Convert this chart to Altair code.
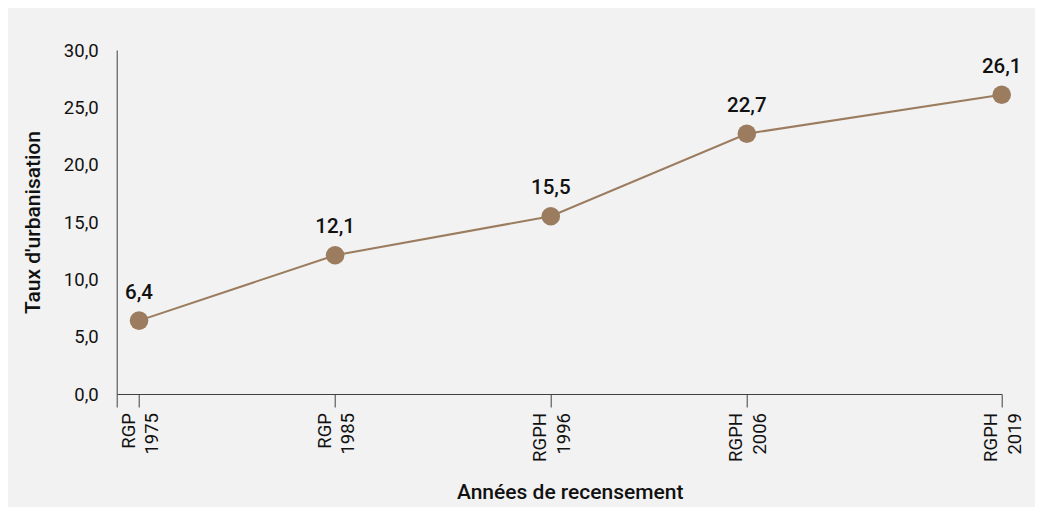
import altair as alt
import pandas as pd

# Data
years = [1975, 1985, 1996, 2006, 2019]
census = ["RGP", "RGP", "RGPH", "RGPH", "RGPH"]
taux = [6.4, 12.1, 15.5, 22.7, 26.1]
y_ticks = [0, 5, 10, 15, 20, 25, 30]
x_start = 1973.86  # axis start (category boundary before first census)

df = pd.DataFrame({
    "annee": years,
    "recensement": census,
    "taux": taux,
    "label": [f"{v:.1f}".replace(".", ",") for v in taux],
})

# label expression built from the lists
expr = "''"
for yr, c in zip(reversed(years), reversed(census)):
    expr = f"datum.value == {yr} ? ['{c}', '{yr}'] : ({expr})"

brown = "#9b7c5f"
font = "Roboto"

x_enc = alt.X(
    "annee:Q",
    scale=alt.Scale(domain=[x_start, 2019], nice=False, zero=False),
    axis=alt.Axis(
        values=[x_start] + years,
        labelExpr=expr,
        labelAngle=270,
        labelAlign="right",
        labelBaseline="middle",
        labelLineHeight=23.5,
        labelOffset=-11,
        labelFontSize=18.5,
        labelPadding=5.5,
        labelColor="#111",
        labelFont=font,
        tickSize=13,
        tickColor="#404040",
        domainColor="#404040",
        grid=False,
        title="Années de recensement",
        titleFont=font,
        titleFontSize=21,
        titleFontWeight=500,
        titleColor="#111",
        titleX=453,
        titleY=104.5,
        titleAlign="center",
        titleBaseline="alphabetic",
    ),
)
y_enc = alt.Y(
    "taux:Q",
    scale=alt.Scale(domain=[0, 30], nice=False),
    axis=alt.Axis(
        values=y_ticks,
        labelExpr="replace(format(datum.value, '.1f'), '.', ',')",
        ticks=False,
        tickSize=0,
        labelPadding=18.5,
        labelFontSize=18.5,
        labelFont=font,
        labelColor="#111",
        domainColor="#404040",
        grid=False,
        title="Taux d'urbanisation",
        titleFont=font,
        titleFontSize=21,
        titleFontWeight=500,
        titleColor="#111",
        titleAngle=270,
        titleX=-83.7,
        titleY=172,
        titleAlign="center",
        titleBaseline="middle",
    ),
)

base = alt.Chart(df).encode(x=x_enc, y=y_enc)
line = base.mark_line(color=brown, strokeWidth=2)
points = base.mark_point(filled=True, size=346, color=brown, opacity=1)
labels = base.mark_text(
    dy=-28, fontSize=20.5, fontWeight=500, font=font, color="#111"
).encode(text="label:N")

chart = (
    alt.layer(line, points, labels)
    .properties(
        width=885,
        height=344,
        autosize=alt.AutoSizeParams(type="none"),
        padding={"left": 108.7, "top": 42, "right": 33.3, "bottom": 113},
        background="#f2f2f2",
    )
    .configure_view(stroke=None)
)

chart.save("out.html", embed_options={"renderer": "svg", "actions": False})
